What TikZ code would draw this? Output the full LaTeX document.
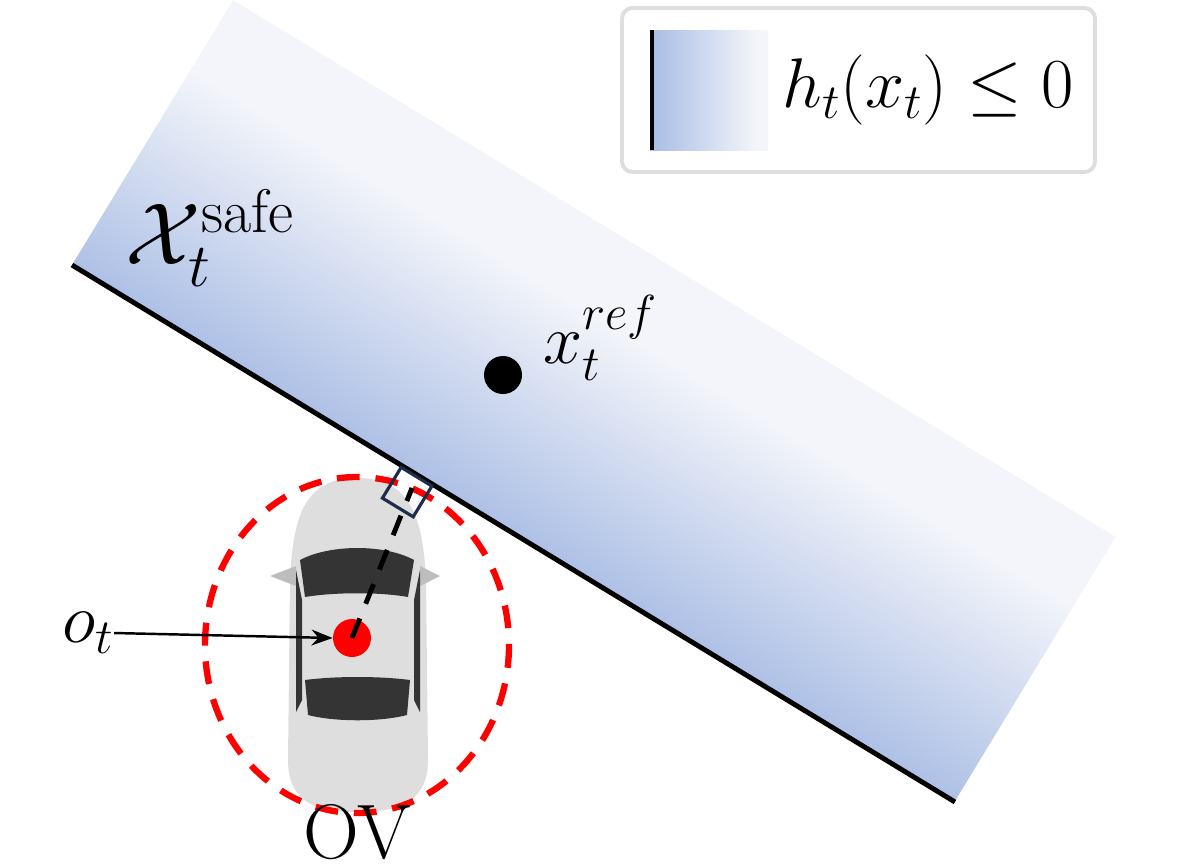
\documentclass[tikz,border=0pt]{standalone}
\usepackage{fix-cm}
\usepackage{amsmath,amssymb}
\usepackage{tikz}
\usetikzlibrary{arrows.meta}
\definecolor{bandblue}{RGB}{168,188,228}
\definecolor{bandpale}{RGB}{243,245,250}
\definecolor{carbody}{RGB}{222,222,222}
\definecolor{carglass}{RGB}{52,52,52}
\definecolor{sqblue}{RGB}{30,45,75}
\pgfdeclareverticalshading{bandshade}{100bp}{color(0bp)=(bandblue); color(22bp)=(bandblue); color(62bp)=(bandpale); color(100bp)=(bandpale)}
\pgfdeclarehorizontalshading{keyshade}{100bp}{color(0bp)=(bandblue); color(25bp)=(bandblue); color(70bp)=(bandpale); color(100bp)=(bandpale)}
\tikzstyle{lbl} = [inner sep=0pt, font=\fontsize{40}{46}\selectfont]
\tikzstyle{edge} = [black, line width=2.8pt]
\tikzstyle{arrow} = [thick, -{Stealth[length=12pt,width=9pt]}, line width=1.4pt]

\begin{document}
\begin{tikzpicture}[x=0.02cm, y=-0.02cm]
  \useasboundingbox (0,0) rectangle (1182,866);
  % safe band
  \begin{scope}
    \clip (0,0) rectangle (1182,866);
    \begin{scope}[transform canvas={shift={(72,265)}, rotate=-31.3}]
      \shade[shading=bandshade] (0,0) rectangle (1033,-310);
    \end{scope}
  \end{scope}
  \coordinate (lineA) at (72,265);
  \coordinate (lineB) at (955,802);
  \draw[edge] (lineA) -- (lineB);

  % legend
  \draw[rounded corners=6pt, draw=black!13, line width=2.2pt, fill=white] (622,8) rectangle (1095,172);
  \shade[shading=keyshade] (650,30) rectangle (768,150);
  \draw[line width=2.4pt] (652,30) -- (652,150);
  \node[lbl] (key) at (928,90) {$h_t(x_t) \leq 0$};

  % car
  \fill[carbody] (357,478) .. controls (305,478) and (293,515) .. (290,580)
    -- (288,760) .. controls (288,805) and (320,812) .. (357,812)
    .. controls (394,812) and (428,805) .. (428,760) -- (426,580)
    .. controls (423,515) and (409,478) .. (357,478) -- cycle;
  \fill[carbody!85!black] (270,576) -- (296,566) -- (296,586) -- cycle;
  \fill[carbody!85!black] (440,576) -- (420,566) -- (420,586) -- cycle;
  \fill[carglass] (300,560) .. controls (330,544) and (385,544) .. (414,560)
    -- (408,597) .. controls (380,592) and (335,592) .. (305,597) -- cycle;
  \fill[carglass] (305,680) .. controls (335,676) and (380,676) .. (410,680)
    -- (407,715) .. controls (380,722) and (335,722) .. (308,715) -- cycle;
  \fill[carglass] (296,570) -- (302,600) -- (302,700) -- (296,712) -- cycle;
  \fill[carglass] (420,570) -- (414,600) -- (414,700) -- (420,712) -- cycle;
  \draw[red, line width=3.6pt, dash pattern=on 13pt off 9pt] (357,645) ellipse (152 and 168);

  % obstacle centre and distance
  \node[circle, fill=red, minimum size=0.76cm, inner sep=0pt] (obs) at (352,638) {};
  \coordinate (foot) at (412,488);
  \draw[line width=2.8pt, dash pattern=on 12pt off 9pt] (obs.center) -- (foot);
  \draw[sqblue, line width=1.8pt, rotate around={-31.3:(foot)}]
    (foot) ++(-20,-12) rectangle ++(36,36);

  % labels
  \node[circle, fill=black, minimum size=0.76cm, inner sep=0pt] (ref) at (503,375) {};
  \node[lbl, anchor=west] (reflbl) at (543,338) {$x_t^{ref}$};
  \node[lbl, font=\fontsize{50}{56}\selectfont] (safe) at (210,238) {$\mathcal{X}_t^{\text{safe}}$};
  \node[lbl] (olbl) at (88,633) {$o_t$};
  \draw[arrow] (olbl.east) -- (obs.west);
  \node[lbl, font=\fontsize{44}{50}\selectfont] (ov) at (357,832) {OV};
\end{tikzpicture}
\end{document}
